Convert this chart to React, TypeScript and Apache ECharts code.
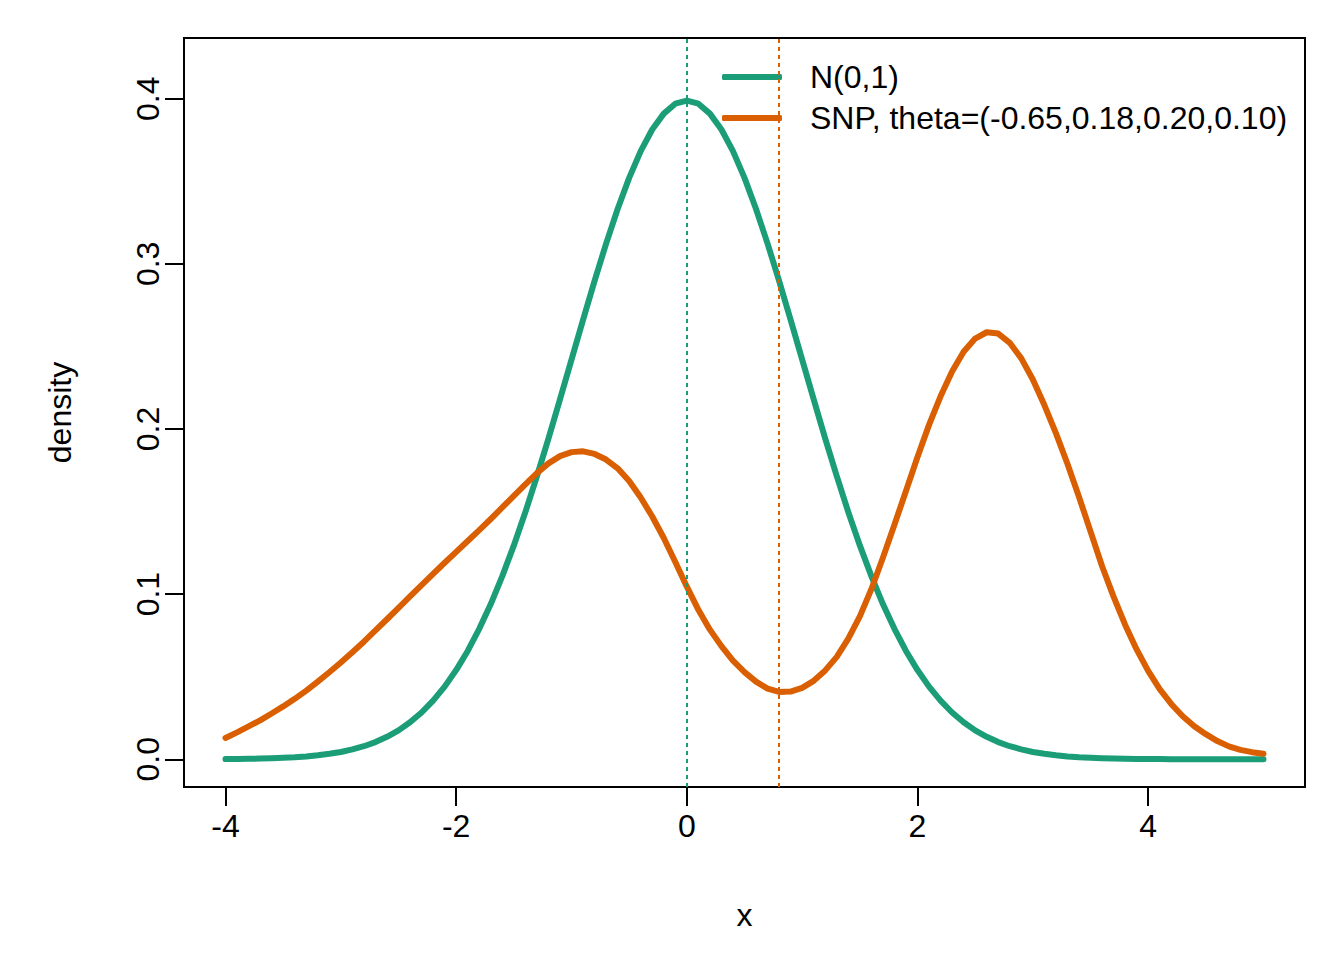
import React, { useEffect, useRef } from "react";
import * as echarts from "echarts";

// x grid on which both densities were read (step 0.1)
const xValues: number[] = [
  -4.0, -3.9, -3.8, -3.7, -3.6, -3.5, -3.4, -3.3, -3.2, -3.1,
  -3.0, -2.9, -2.8, -2.7, -2.6, -2.5, -2.4, -2.3, -2.2, -2.1,
  -2.0, -1.9, -1.8, -1.7, -1.6, -1.5, -1.4, -1.3, -1.2, -1.1,
  -1.0, -0.9, -0.8, -0.7, -0.6, -0.5, -0.4, -0.3, -0.2, -0.1,
  0.0,
  0.1, 0.2, 0.3, 0.4, 0.5, 0.6, 0.7, 0.8, 0.9, 1.0,
  1.1, 1.2, 1.3, 1.4, 1.5, 1.6, 1.7, 1.8, 1.9, 2.0,
  2.1, 2.2, 2.3, 2.4, 2.5, 2.6, 2.7, 2.8, 2.9, 3.0,
  3.1, 3.2, 3.3, 3.4, 3.5, 3.6, 3.7, 3.8, 3.9, 4.0,
  4.1, 4.2, 4.3, 4.4, 4.5, 4.6, 4.7, 4.8, 4.9, 5.0,
];

// N(0,1) density
const normalValues: number[] = [
  0.0001, 0.0002, 0.0003, 0.0004, 0.0006, 0.0009, 0.0012, 0.0017, 0.0024, 0.0033,
  0.0044, 0.006, 0.0079, 0.0104, 0.0136, 0.0175, 0.0224, 0.0283, 0.0355, 0.044,
  0.054, 0.0656, 0.079, 0.094, 0.1109, 0.1295, 0.1497, 0.1714, 0.1942, 0.2179,
  0.242, 0.2661, 0.2897, 0.3123, 0.3332, 0.3521, 0.3683, 0.3814, 0.391, 0.397,
  0.3989,
  0.397, 0.391, 0.3814, 0.3683, 0.3521, 0.3332, 0.3123, 0.2897, 0.2661, 0.242,
  0.2179, 0.1942, 0.1714, 0.1497, 0.1295, 0.1109, 0.094, 0.079, 0.0656, 0.054,
  0.044, 0.0355, 0.0283, 0.0224, 0.0175, 0.0136, 0.0104, 0.0079, 0.006, 0.0044,
  0.0033, 0.0024, 0.0017, 0.0012, 0.0009, 0.0006, 0.0004, 0.0003, 0.0002, 0.0001,
  0.0001, 0.0, 0.0, 0.0, 0.0, 0.0, 0.0, 0.0, 0.0, 0.0,
];

// SNP density, theta=(-0.65,0.18,0.20,0.10)
const snpValues: number[] = [
  0.0129, 0.0163, 0.0199, 0.0236, 0.0277, 0.032, 0.0366, 0.0416, 0.047, 0.0527,
  0.0586, 0.0648, 0.0712, 0.078, 0.0848, 0.0917, 0.0986, 0.1055, 0.1123, 0.119,
  0.1256, 0.1322, 0.1388, 0.1455, 0.1525, 0.1595, 0.1665, 0.1733, 0.1792, 0.1836,
  0.186, 0.1865, 0.1849, 0.1815, 0.1762, 0.1685, 0.1585, 0.147, 0.134, 0.1195,
  0.1045,
  0.0905, 0.0785, 0.0685, 0.0598, 0.0528, 0.047, 0.0428, 0.0408, 0.041, 0.0432,
  0.0475, 0.0538, 0.062, 0.073, 0.0865, 0.103, 0.122, 0.142, 0.1625, 0.183,
  0.2025, 0.2198, 0.2348, 0.2468, 0.2548, 0.2586, 0.2578, 0.2522, 0.2428, 0.23,
  0.2145, 0.1975, 0.179, 0.159, 0.138, 0.117, 0.0985, 0.0815, 0.0665, 0.0535,
  0.0425, 0.0335, 0.026, 0.02, 0.0152, 0.011, 0.0078, 0.0057, 0.0043, 0.0033,
];

// vertical reference lines (means)
const normalMean = 0;
const snpMean = 0.8;

const xTicks: number[] = [-4, -2, 0, 2, 4];
const yTicks: number[] = [0, 0.1, 0.2, 0.3, 0.4];

const seriesNames = ["N(0,1)", "SNP, theta=(-0.65,0.18,0.20,0.10)"];
const GREEN = "#1B9E77";
const ORANGE = "#D95F02";
const FONT = "'Liberation Sans', Arial, Helvetica, sans-serif";

export default function App() {
  const ref = useRef<HTMLDivElement>(null);

  useEffect(() => {
    if (!ref.current) return;
    const chart = echarts.init(ref.current, undefined, { renderer: "svg" });
    const normalData = xValues.map((x, i) => [x, normalValues[i]]);
    const snpData = xValues.map((x, i) => [x, snpValues[i]]);

    const option: any = {
      animation: false,
      backgroundColor: "#ffffff",
      textStyle: { fontFamily: FONT, color: "#000" },
      grid: {
        left: 184,
        top: 38,
        width: 1121,
        height: 749,
        show: true,
        borderColor: "#000",
        borderWidth: 2,
        backgroundColor: "transparent",
      },
      legend: {
        orient: "vertical",
        left: 722,
        top: 61,
        padding: 0,
        itemWidth: 60,
        itemHeight: 6,
        itemGap: 9,
        icon: "roundRect",
        selectedMode: false,
        textStyle: {
          fontFamily: FONT,
          fontSize: 32,
          color: "#000",
          padding: [0, 0, 0, 23],
        },
        data: seriesNames,
      },
      xAxis: {
        type: "value",
        min: -4.36,
        max: 5.36,
        name: "x",
        nameLocation: "middle",
        nameGap: 112,
        nameTextStyle: { fontFamily: FONT, fontSize: 32, color: "#000" },
        axisLine: { show: false, onZero: false },
        splitLine: { show: false },
        axisTick: {
          show: true,
          length: 19,
          customValues: xTicks,
          lineStyle: { color: "#000", width: 2 },
        },
        axisLabel: {
          customValues: xTicks,
          fontFamily: FONT,
          fontSize: 32,
          color: "#000",
          margin: 23,
          formatter: (v: number) => String(v),
        },
      },
      yAxis: {
        type: "value",
        min: -0.0168,
        max: 0.4368,
        name: "density",
        nameLocation: "middle",
        nameGap: 108,
        nameRotate: 90,
        nameTextStyle: { fontFamily: FONT, fontSize: 32, color: "#000" },
        axisLine: { show: false, onZero: false },
        splitLine: { show: false },
        axisTick: {
          show: true,
          length: 19,
          customValues: yTicks,
          lineStyle: { color: "#000", width: 2 },
        },
        axisLabel: {
          customValues: yTicks,
          rotate: 90,
          fontFamily: FONT,
          fontSize: 32,
          color: "#000",
          margin: 20,
          formatter: (v: number) => v.toFixed(1),
        },
      },
      series: [
        {
          name: seriesNames[0],
          type: "line",
          data: normalData,
          smooth: false,
          showSymbol: false,
          symbol: "none",
          color: GREEN,
          lineStyle: { color: GREEN, width: 6, cap: "round", join: "round" },
          silent: true,
          z: 3,
          markLine: {
            silent: true,
            symbol: ["none", "none"],
            label: { show: false },
            lineStyle: { color: GREEN, width: 2, type: [4, 4] },
            data: [{ xAxis: normalMean }],
          },
        },
        {
          name: seriesNames[1],
          type: "line",
          data: snpData,
          smooth: false,
          showSymbol: false,
          symbol: "none",
          color: ORANGE,
          lineStyle: { color: ORANGE, width: 6, cap: "round", join: "round" },
          silent: true,
          z: 4,
          markLine: {
            silent: true,
            symbol: ["none", "none"],
            label: { show: false },
            lineStyle: { color: ORANGE, width: 2, type: [4, 4] },
            data: [{ xAxis: snpMean }],
          },
        },
      ],
    };
    chart.setOption(option);
    return () => chart.dispose();
  }, []);

  return (
    <div
      ref={ref}
      style={{
        position: "absolute",
        left: 0,
        top: 0,
        width: 1344,
        height: 960,
        background: "#fff",
      }}
    />
  );
}
